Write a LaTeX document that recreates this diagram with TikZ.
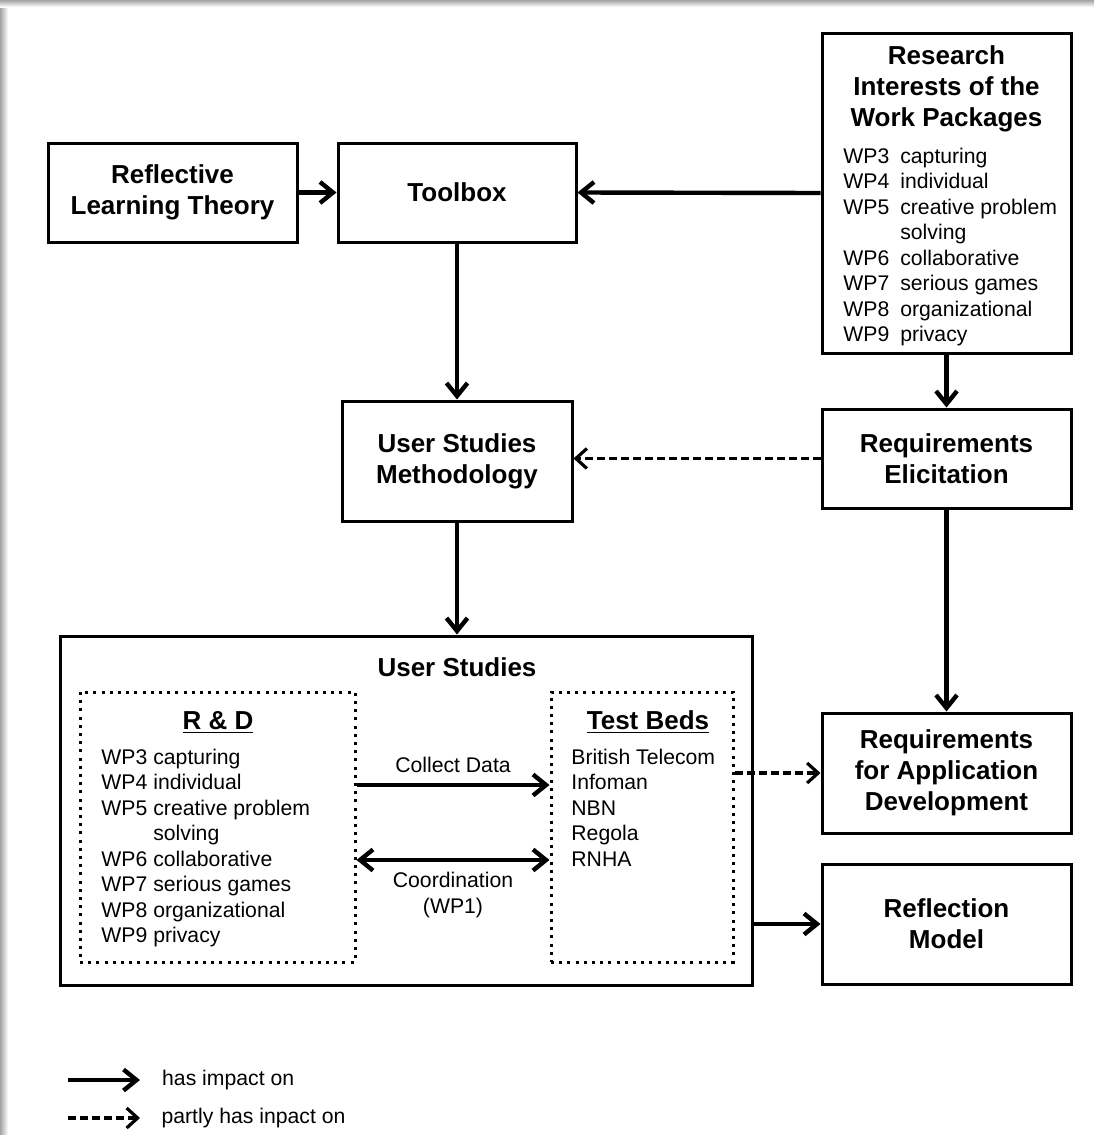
\documentclass[tikz,border=0pt]{standalone}
\usepackage{fontspec}
\setmainfont{Liberation Sans}
\usetikzlibrary{arrows.meta,positioning}
\definecolor{ShadowGray}{HTML}{A4A4A4}

\tikzset{
  box/.style={draw,line width=1.5pt,inner sep=0pt,minimum width=124.5pt},
  dotbox/.style={draw,line width=1.5pt,dash pattern=on 1.5pt off 2.6pt,inner sep=0pt},
  ttl/.style={font=\fontsize{13}{15.5}\selectfont\bfseries,align=center,inner sep=0pt},
  txt/.style={font=\fontsize{10.6}{12.75}\selectfont,inner sep=0pt},
  barb/.tip={Straight Barb[length=6.5pt,width=10.5pt]},
  impact/.style={line width=2.2pt,-barb},
  partly/.style={line width=1.6pt,dash pattern=on 4pt off 2pt,-{Straight Barb[length=5.5pt,width=10pt]}},
}

\begin{document}
\begin{tikzpicture}[x=0.5pt,y=-0.5pt]
    \useasboundingbox (0,0) rectangle (1094,1135);
    % Shadow along the frame
    \shade[left color=ShadowGray,right color=white] (0,0) rectangle (8,1135);
    \shade[top color=ShadowGray,bottom color=white] (0,0) rectangle (1094,7);
    % Top row
    \node[box,minimum height=49.5pt,ttl] (rlt) at (172.5,192.5) {Reflective\\Learning Theory};
    \node[box,minimum width=119pt,minimum height=49.5pt,ttl] (tool) at (457,192.5) {Toolbox};
    \node[box,minimum height=160pt] (rint) at (946.5,193) {};
    \node[ttl] (rtitle) at (946.5,89) {Research\\Interests of the\\Work Packages};
    \node[txt,anchor=base west] (rlist) at (843,163) {\begin{tabular}[t]{@{}l@{\hspace{5.5pt}}l@{}}
      WP3 & capturing\\ WP4 & individual\\ WP5 & creative problem\\ & solving\\
      WP6 & collaborative\\ WP7 & serious games\\ WP8 & organizational\\ WP9 & privacy
    \end{tabular}};
    % Middle row
    \node[box,minimum width=115pt,minimum height=60pt,ttl] (usm) at (457,461) {User Studies\\Methodology};
    \node[box,minimum height=49.5pt,ttl] (relic) at (946.5,458.5) {Requirements\\Elicitation};
    % User studies block
    \node[box,minimum width=346pt,minimum height=174.5pt] (us) at (406,810.5) {};
    \node[ttl,anchor=base] (ustitle) at (457,676) {User Studies};
    \node[dotbox,minimum width=137.5pt,minimum height=135pt] (rd) at (217.5,827) {};
    \node[dotbox,minimum width=91pt,minimum height=135pt] (tb) at (642,827) {};
    \node[ttl,anchor=base] (rdtitle) at (218,729) {\underline{R \& D}};
    \node[ttl,anchor=base] (tbtitle) at (648,729) {\underline{Test Beds}};
    \node[txt,anchor=base west] (rdlist) at (101,764) {\begin{tabular}[t]{@{}l@{\hspace{3pt}}l@{}}
      WP3 & capturing\\ WP4 & individual\\ WP5 & creative problem\\ & solving\\
      WP6 & collaborative\\ WP7 & serious games\\ WP8 & organizational\\ WP9 & privacy
    \end{tabular}};
    \node[txt,anchor=base west] (tblist) at (571,764) {\begin{tabular}[t]{@{}l@{}}
      British Telecom\\ Infoman\\ NBN\\ Regola\\ RNHA
    \end{tabular}};
    % Right column
    \node[box,minimum height=60pt,ttl] (rad) at (946.5,773) {Requirements\\for Application\\Development};
    \node[box,minimum height=60pt,ttl] (rm) at (946.5,924) {Reflection\\Model};
    % Connectors
    \draw[impact] (rlt.east) -- (tool.west);
    \draw[impact] (rint.west) -- (tool.east);
    \draw[impact] (tool.south) -- (usm.north);
    \draw[impact] (rint.south) -- (relic.north);
    \draw[partly] (relic.west) -- (relic.west -| usm.east);
    \draw[impact] (usm.south) -- (usm.south |- us.north);
    \draw[impact] (relic.south) -- (rad.north);
    \draw[partly] (rad.west -| tb.east) -- (rad.west);
    \draw[impact] (rm.west -| us.east) -- (rm.west);
    \draw[impact] ([yshift=21pt]rd.east) -- ([yshift=21pt]rd.east -| tb.west)
      node[midway,above=5pt,txt] (collect) {Collect Data};
    \draw[impact,barb-barb] ([yshift=-16.5pt]rd.east) -- ([yshift=-16.5pt]rd.east -| tb.west)
      node[midway,below=5pt,txt,align=center] (coord) {Coordination\\(WP1)};
    % Legend
    \coordinate (solidA) at (68,1080);
    \coordinate (solidB) at (140,1080);
    \coordinate (dashA) at (68,1118);
    \coordinate (dashB) at (140,1118);
    \draw[impact] (solidA) -- (solidB) node[right=10pt,txt] (leg1) {has impact on};
    \draw[partly] (dashA) -- (dashB) node[right=10pt,txt] (leg2) {partly has inpact on};
\end{tikzpicture}
\end{document}
